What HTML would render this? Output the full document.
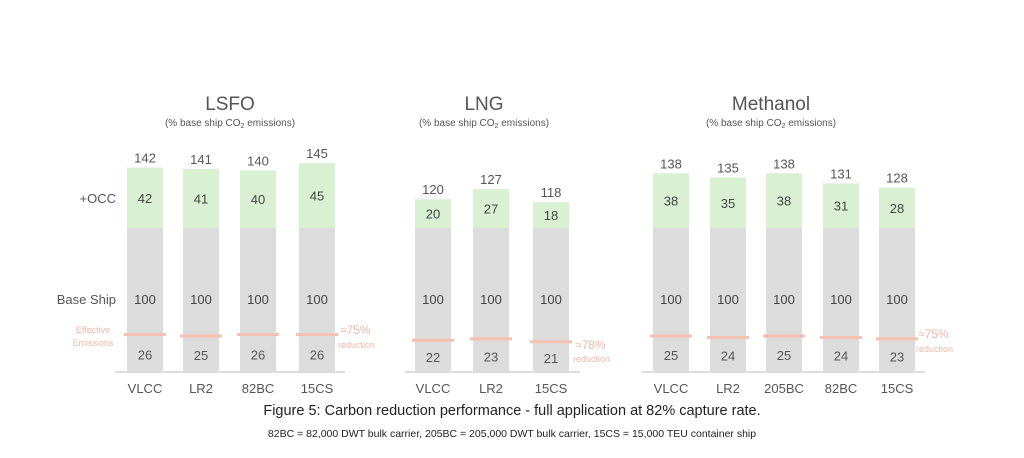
<!DOCTYPE html>
<html><head><meta charset="utf-8"><style>
html,body{margin:0;padding:0;background:#fff;}
svg{display:block;font-family:"Liberation Sans",sans-serif;}
</style></head><body>
<svg width="1024" height="458" viewBox="0 0 1024 458" xmlns="http://www.w3.org/2000/svg">
<rect width="1024" height="458" fill="#fff"/>
<g text-anchor="middle" fill="#555">
<text x="230" y="110" font-size="19">LSFO</text>
<text x="230" y="126" font-size="10">(% base ship CO<tspan font-size="7" dy="2">2</tspan><tspan dy="-2"> emissions)</tspan></text>
<text x="484" y="110" font-size="19">LNG</text>
<text x="484" y="126" font-size="10">(% base ship CO<tspan font-size="7" dy="2">2</tspan><tspan dy="-2"> emissions)</tspan></text>
<text x="771" y="110" font-size="19">Methanol</text>
<text x="771" y="126" font-size="10">(% base ship CO<tspan font-size="7" dy="2">2</tspan><tspan dy="-2"> emissions)</tspan></text>
</g>
<g id="bars"></g>
<g stroke="#ddd" stroke-width="2">
<line x1="115" y1="372" x2="345" y2="372"/>
<line x1="405" y1="372" x2="580" y2="372"/>
<line x1="642" y1="372" x2="925" y2="372"/>
</g>
<g fill="#555" font-size="13" text-anchor="end">
<text x="116" y="203">+OCC</text>
<text x="116" y="304">Base Ship</text>
</g>
<g fill="#f2b8a8" font-size="9" text-anchor="middle">
<text x="93" y="333">Effective</text>
<text x="93" y="346">Emissions</text>
</g>
<g fill="#f2b8a8" text-anchor="start">
<text x="340" y="334" font-size="12">≈75%</text><text x="338" y="348" font-size="9">reduction</text>
<text x="575" y="349" font-size="12">≈78%</text><text x="573" y="362" font-size="9">reduction</text>
<text x="918" y="338" font-size="12">≈75%</text><text x="916" y="352" font-size="9">reduction</text>
</g>
<g text-anchor="middle" fill="#222">
<text x="512" y="415" font-size="14.5">Figure 5: Carbon reduction performance - full application at 82% capture rate.</text>
<text x="512" y="437" font-size="10.5">82BC = 82,000 DWT bulk carrier, 205BC = 205,000 DWT bulk carrier, 15CS = 15,000 TEU container ship</text>
</g>
<script>
const data=[
[[127,"VLCC",42,26],[183,"LR2",41,25],[240,"82BC",40,26],[299,"15CS",45,26]],
[[415,"VLCC",20,22],[473,"LR2",27,23],[533,"15CS",18,21]],
[[653,"VLCC",38,25],[710,"LR2",35,24],[766,"205BC",38,25],[823,"82BC",31,24],[879,"15CS",28,23]]];
const g=document.getElementById('bars');const ns="http://www.w3.org/2000/svg";
function el(t,a,txt){const e=document.createElementNS(ns,t);for(const k in a)e.setAttribute(k,a[k]);if(txt!==undefined)e.textContent=txt;g.appendChild(e);return e;}
const base=372,s=1.44,w=36;
data.forEach(ch=>ch.forEach(([x,l,o,r])=>{
 const gt=base-100*s, ot=gt-o*s, cx=x+w/2;
 el('rect',{x:x,y:gt,width:w,height:100*s,fill:'#dcdcdc'});
 el('rect',{x:x,y:ot,width:w,height:o*s,fill:'#d9f0d3'});
 const ry=base-r*s;
 el('rect',{x:x-3,y:ry-1.5,width:w+6,height:3,fill:'#f4c0b0'});
 el('text',{x:cx,y:ot-5,'font-size':13,'text-anchor':'middle',fill:'#555'},o+100);
 el('text',{x:cx,y:(ot+gt)/2+5,'font-size':13,'text-anchor':'middle',fill:'#444'},o);
 el('text',{x:cx,y:304,'font-size':13,'text-anchor':'middle',fill:'#444'},100);
 el('text',{x:cx,y:(ry+base)/2+6,'font-size':13,'text-anchor':'middle',fill:'#555'},r);
 el('text',{x:cx,y:393,'font-size':13,'text-anchor':'middle',fill:'#555'},l);
}));
</script>
</svg>
</body></html>
